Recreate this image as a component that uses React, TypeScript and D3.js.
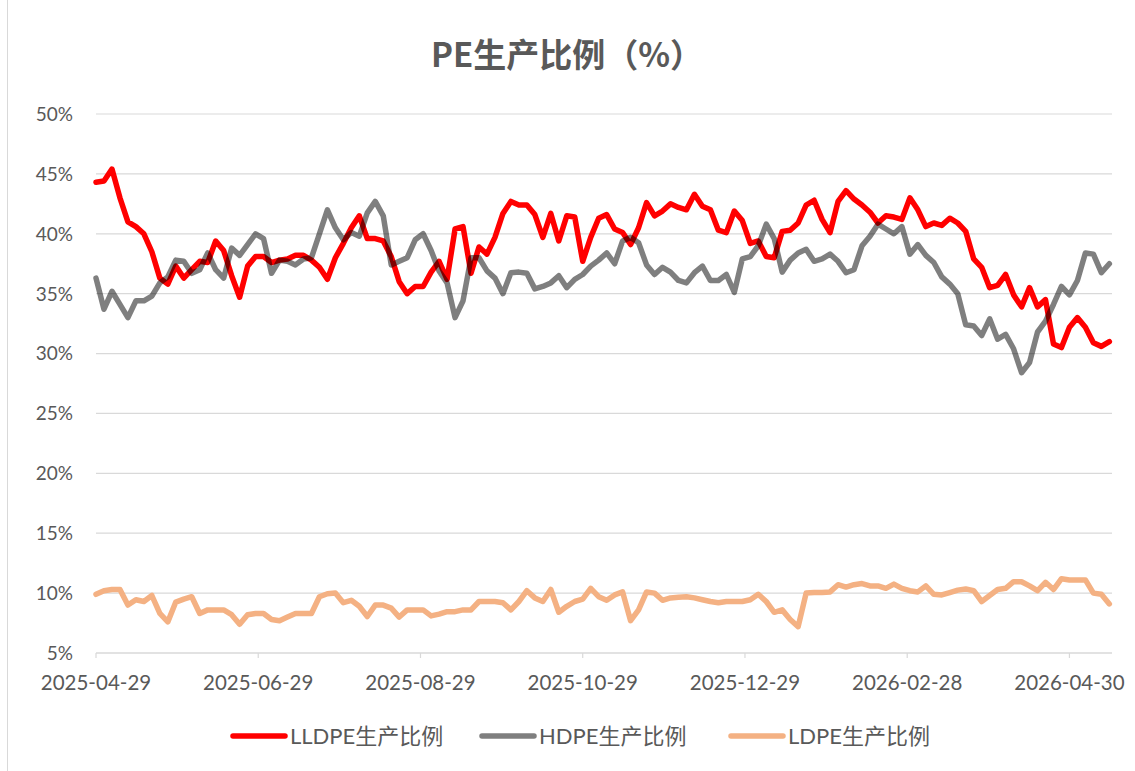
import React from 'react';
import * as d3 from 'd3';

// sampled every 3 days starting 2025-04-29
const START = new Date(2025, 3, 29);
const STEP_DAYS = 3;
const END_DAYS = 382;

const lldpe = [
  44.3, 44.4, 45.4, 43.0, 41.0, 40.6, 40.0, 38.5, 36.3, 35.8,
  37.3, 36.3, 37.0, 37.7, 37.6, 39.4, 38.6, 36.5, 34.7, 37.3,
  38.1, 38.1, 37.6, 37.8, 37.9, 38.2, 38.2, 37.8, 37.2, 36.2,
  38.0, 39.2, 40.5, 41.5, 39.6, 39.6, 39.4, 38.1, 36.0, 35.0,
  35.6, 35.6, 36.8, 37.7, 36.2, 40.4, 40.6, 36.7, 38.9, 38.3,
  39.7, 41.7, 42.7, 42.4, 42.4, 41.6, 39.7, 41.7, 39.4, 41.5,
  41.4, 37.7, 39.7, 41.3, 41.6, 40.4, 40.1, 39.1, 40.5, 42.6,
  41.5, 41.9, 42.5, 42.2, 42.0, 43.3, 42.3, 42.0, 40.3, 40.1,
  41.9, 41.1, 39.2, 39.4, 38.1, 38.0, 40.2, 40.3, 40.9, 42.4,
  42.8, 41.2, 40.1, 42.7, 43.6, 42.9, 42.4, 41.8, 40.9, 41.5,
  41.4, 41.2, 43.0, 42.0, 40.6, 40.9, 40.7, 41.3, 40.9, 40.2,
  37.9, 37.2, 35.5, 35.7, 36.6, 34.9, 33.9, 35.5, 33.9, 34.5,
  30.8, 30.5, 32.2, 33.0, 32.2, 30.9, 30.6, 31.0,
];

const hdpe = [
  36.3, 33.7, 35.2, 34.1, 33.0, 34.4, 34.4, 34.8, 35.9, 36.4,
  37.8, 37.7, 36.7, 37.0, 38.4, 37.0, 36.3, 38.8, 38.2, 39.1,
  40.0, 39.6, 36.7, 37.8, 37.7, 37.4, 37.9, 38.0, 40.0, 42.0,
  40.5, 39.5, 40.1, 39.8, 41.75, 42.7, 41.5, 37.4, 37.7, 38.0,
  39.5, 40.0, 38.6, 36.9, 35.9, 33.0, 34.4, 38.0, 38.0, 36.9,
  36.3, 35.0, 36.75, 36.8, 36.7, 35.4, 35.6, 35.9, 36.5, 35.5,
  36.2, 36.6, 37.3, 37.8, 38.4, 37.5, 39.4, 39.7, 39.25, 37.4,
  36.6, 37.2, 36.8, 36.1, 35.9, 36.75, 37.3, 36.1, 36.1, 36.6,
  35.1, 37.9, 38.1, 39.0, 40.8, 39.6, 36.8, 37.8, 38.4, 38.7,
  37.7, 37.9, 38.3, 37.7, 36.75, 37.0, 39.0, 39.8, 40.8, 40.4,
  40.0, 40.6, 38.3, 39.1, 38.2, 37.6, 36.4, 35.8, 35.0, 32.4,
  32.3, 31.5, 32.9, 31.2, 31.6, 30.4, 28.4, 29.25, 31.8, 32.7,
  34.1, 35.6, 34.9, 36.1, 38.4, 38.3, 36.75, 37.5,
];

const ldpe = [
  9.9, 10.2, 10.3, 10.3, 9.0, 9.45, 9.3, 9.8, 8.3, 7.6,
  9.25, 9.5, 9.7, 8.3, 8.6, 8.6, 8.6, 8.2, 7.4, 8.2,
  8.3, 8.3, 7.8, 7.7, 8.0, 8.3, 8.3, 8.3, 9.7, 9.95,
  10.0, 9.2, 9.4, 8.9, 8.05, 9.0, 9.0, 8.75, 8.0, 8.6,
  8.6, 8.6, 8.1, 8.25, 8.45, 8.45, 8.6, 8.6, 9.3, 9.3,
  9.3, 9.2, 8.6, 9.3, 10.2, 9.6, 9.3, 10.3, 8.4, 8.9,
  9.3, 9.5, 10.4, 9.7, 9.4, 9.85, 10.1, 7.7, 8.6, 10.1,
  10.0, 9.4, 9.6, 9.65, 9.7, 9.6, 9.45, 9.3, 9.2, 9.3,
  9.3, 9.3, 9.45, 9.9, 9.3, 8.4, 8.6, 7.8, 7.2, 10.0,
  10.05, 10.05, 10.1, 10.7, 10.5, 10.7, 10.8, 10.6, 10.6, 10.4,
  10.75, 10.4, 10.2, 10.1, 10.6, 9.9, 9.85, 10.05, 10.25, 10.35,
  10.2, 9.3, 9.8, 10.3, 10.4, 10.95, 10.95, 10.6, 10.2, 10.9,
  10.3, 11.2, 11.1, 11.1, 11.1, 10.0, 9.9, 9.1,
];

const yTicks = [5, 10, 15, 20, 25, 30, 35, 40, 45, 50];
const TICK_EVERY_DAYS = 61;

const series = [
  { name: 'LLDPE生产比例', values: lldpe, color: '#ff0000', opacity: 1 },
  { name: 'HDPE生产比例', values: hdpe, color: '#000000', opacity: 0.5 },
  { name: 'LDPE生产比例', values: ldpe, color: '#f4b183', opacity: 1 },
];

const W = 1135;
const H = 771;
const textColor = '#595959';
const gridColor = '#d9d9d9';
const font = "Lato, 'Noto Sans CJK SC', sans-serif";

export default function App() {
  const dates = lldpe.map((_, i) => d3.timeDay.offset(START, i * STEP_DAYS));
  const end = d3.timeDay.offset(START, END_DAYS);

  const x = d3.scaleTime().domain([START, end]).range([96, 1112]);
  const y = d3.scaleLinear().domain([5, 50]).range([653, 114]);

  const xTicks = d3.range(0, 7).map((i) => d3.timeDay.offset(START, i * TICK_EVERY_DAYS));
  const fmt = d3.timeFormat('%Y-%m-%d');

  const line = (vals: number[]) =>
    d3.line<number>()
      .x((_, i) => x(dates[i]))
      .y((d) => y(d))(vals) || '';

  const legendX = [233, 482, 731];

  return (
    <svg width={W} height={H} style={{ position: 'absolute', left: 0, top: 0, background: '#fff' }}>
      <line x1={7.5} x2={7.5} y1={0} y2={H} stroke={gridColor} />
      <text x={567} y={67} textAnchor="middle" fontFamily="'Noto Sans CJK SC', sans-serif"
        fontWeight="bold" fontSize={33} fill={textColor}>PE生产比例（%）</text>

      {yTicks.filter((t) => t > 5).map((t) => (
        <line key={t} x1={96} x2={1112} y1={y(t)} y2={y(t)} stroke={gridColor} strokeWidth={1.2} />
      ))}
      <line x1={96} x2={1112} y1={y(5)} y2={y(5)} stroke={gridColor} strokeWidth={1.5} />
      {xTicks.map((t, i) => (
        <g key={i}>
          <line x1={x(t)} x2={x(t)} y1={y(5)} y2={y(5) + 5} stroke={gridColor} strokeWidth={1.2} />
          <text x={x(t)} y={690} textAnchor="middle" fontFamily={font} fontSize={20.5} fill={textColor}>
            {fmt(t)}
          </text>
        </g>
      ))}
      {yTicks.map((t) => (
        <text key={t} x={73} y={y(t)} dy="0.36em" textAnchor="end" fontFamily={font}
          fontSize={19} fill={textColor}>{t}%</text>
      ))}

      {series.map((s) => (
        <path key={s.name} d={line(s.values)} fill="none" stroke={s.color} strokeOpacity={s.opacity}
          strokeWidth={5.5} strokeLinejoin="round" strokeLinecap="round" />
      ))}

      {series.map((s, i) => (
        <g key={s.name}>
          <line x1={legendX[i]} x2={legendX[i] + 52} y1={736} y2={736} stroke={s.color}
            strokeOpacity={s.opacity} strokeWidth={5.5} strokeLinecap="round" />
          <text x={legendX[i] + 57} y={736} dy="0.36em" fontFamily={font} fontSize={22}
            fill={textColor}>{s.name}</text>
        </g>
      ))}
    </svg>
  );
}
